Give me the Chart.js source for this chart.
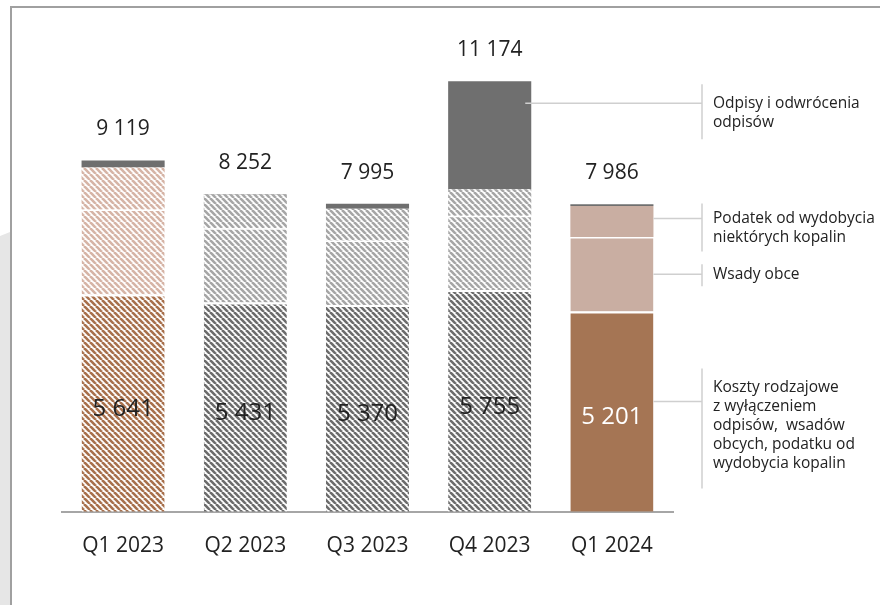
<!DOCTYPE html>
<html>
<head>
<meta charset="utf-8">
<script src="https://cdn.jsdelivr.net/npm/chart.js@4"></script>
<style>
    body { margin: 0; background: #fff; }
    #wrap { position: relative; width: 880px; height: 605px; }
</style>
</head>
<body>
<div id="wrap"><canvas id="costChart" width="880" height="605"></canvas></div>
<script>
const categories = ["Q1 2023", "Q2 2023", "Q3 2023", "Q4 2023", "Q1 2024"];
const koszty = [5641, 5431, 5370, 5755, 5201];
const wsady = [2208, 1932, 1672, 1930, 1935];
const podatek = [1090, 874, 823, 686, 800];
const odpisy = [180, 15, 130, 2803, 50];
const totals = [9119, 8252, 7995, 11174, 7986];
const baseLabels = ["5 641", "5 431", "5 370", "5 755", "5 201"];
const totalLabels = ["9 119", "8 252", "7 995", "11 174", "7 986"];

const canvas = document.getElementById("costChart");
const ctx = canvas.getContext("2d");
const FONT = "'Open Sans', 'Noto Sans', sans-serif";

function hatch(color) {
    const c = document.createElement("canvas");
    c.width = 6; c.height = 6;
    const x = c.getContext("2d");
    x.fillStyle = "#fff";
    x.fillRect(0, 0, 6, 6);
    x.strokeStyle = color;
    x.lineWidth = 2.6;
    for (const o of [-6, 0, 6]) {
        x.beginPath();
        x.moveTo(o, 0);
        x.lineTo(o + 6, 6);
        x.stroke();
    }
    return ctx.createPattern(c, "repeat");
}

const brownDark = hatch("#a8704c");
const brownLight = hatch("#d6b4a6");
const grayDark = hatch("#6c6c6c");
const grayLight = hatch("#a6a6a6");

const baseColors = [brownDark, grayDark, grayDark, grayDark, "#a57554"];
const upperColors = [brownLight, grayLight, grayLight, grayLight, "#c9aea2"];

// leader lines + texts on the right
const notes = [
    { ds: 3, idx: 3, lines: ["Odpisy i odwrócenia", "odpisów"], at: "top", off: 22, textOff: 0, up: 19, down: 17 },
    { ds: 2, idx: 4, lines: ["Podatek od wydobycia", "niektórych kopalin"], at: "mid", off: -3, textOff: 0, up: 15, down: 14 },
    { ds: 1, idx: 4, lines: ["Wsady obce"], at: "mid", off: 0, textOff: 0, up: 10, down: 12 },
    { ds: 0, idx: 4, lines: ["Koszty rodzajowe", "z wyłączeniem", "odpisów,  wsadów", "obcych, podatku od", "wydobycia kopalin"], at: "mid", off: -10, textOff: -14, up: 19, down: 25 }
];

const framePlugin = {
    id: "frame",
    beforeDraw(chart) {
        const c = chart.ctx;
        c.save();
        c.fillStyle = "#e6e6e6";
        c.beginPath();
        c.moveTo(0, 236); c.lineTo(10, 232); c.lineTo(10, 605); c.lineTo(0, 605);
        c.closePath();
        c.fill();
        c.strokeStyle = "#a0a0a0";
        c.lineWidth = 2;
        c.beginPath();
        c.moveTo(11, 605); c.lineTo(11, 7); c.lineTo(880, 7);
        c.stroke();
        c.restore();
    }
};

const labelPlugin = {
    id: "labels",
    afterDatasetsDraw(chart) {
        const c = chart.ctx;
        c.save();
        c.textAlign = "center";
        c.textBaseline = "middle";
        const top = chart.getDatasetMeta(3).data;
        const base = chart.getDatasetMeta(0).data;
        for (let i = 0; i < categories.length; i++) {
            c.font = "21px " + FONT;
            c.fillStyle = "#222";
            c.fillText(totalLabels[i], top[i].x, top[i].y - 31);
            c.font = "24px " + FONT;
            c.fillStyle = i === 4 ? "#fff" : "#222";
            c.fillText(baseLabels[i], base[i].x, (base[i].y + base[i].base) / 2 + 6);
        }

        c.strokeStyle = "#cfcfcf";
        c.lineWidth = 1.5;
        c.font = "15.5px " + FONT;
        c.fillStyle = "#222";
        c.textAlign = "left";
        const vx = 702;
        for (const n of notes) {
            const el = chart.getDatasetMeta(n.ds).data[n.idx];
            const y = n.at === "top" ? el.y + n.off : (el.y + el.base) / 2 + n.off;
            const x0 = el.x + el.width / 2 - (n.at === "top" ? 6 : 0);
            c.beginPath();
            c.moveTo(x0, y); c.lineTo(vx, y);
            c.stroke();
            const ty = y + n.textOff;
            const lh = 19;
            c.beginPath();
            c.moveTo(vx, ty - n.up);
            c.lineTo(vx, ty + (n.lines.length - 1) * lh + n.down);
            c.stroke();
            n.lines.forEach((t, k) => c.fillText(t, vx + 11, ty + k * lh));
        }
        c.restore();
    }
};

new Chart(canvas, {
    type: "bar",
    data: {
        labels: categories,
        datasets: [
            { label: "Koszty", data: koszty, backgroundColor: baseColors, borderColor: "#fff", borderWidth: { top: 2 }, borderSkipped: false },
            { label: "Wsady obce", data: wsady, backgroundColor: upperColors, borderColor: "#fff", borderWidth: { top: 1.5 }, borderSkipped: false },
            { label: "Podatek", data: podatek, backgroundColor: upperColors, borderWidth: 0 },
            { label: "Odpisy", data: odpisy, backgroundColor: "#6f6f6f", borderWidth: 0 }
        ]
    },
    options: {
        responsive: false,
        devicePixelRatio: 1,
        animation: false,
        layout: { padding: { left: 62, right: 207, top: 11, bottom: 32 } },
        plugins: { legend: { display: false }, tooltip: { enabled: false } },
        datasets: { bar: { barPercentage: 0.68, categoryPercentage: 1 } },
        scales: {
            x: {
                stacked: true,
                grid: { display: false },
                border: { color: "#a6a6a6", width: 2 },
                ticks: { color: "#222", font: { family: FONT, size: 21 }, padding: 14 }
            },
            y: { stacked: true, display: false, min: 0, max: 13000 }
        }
    },
    plugins: [framePlugin, labelPlugin]
});
</script>
</body>
</html>
